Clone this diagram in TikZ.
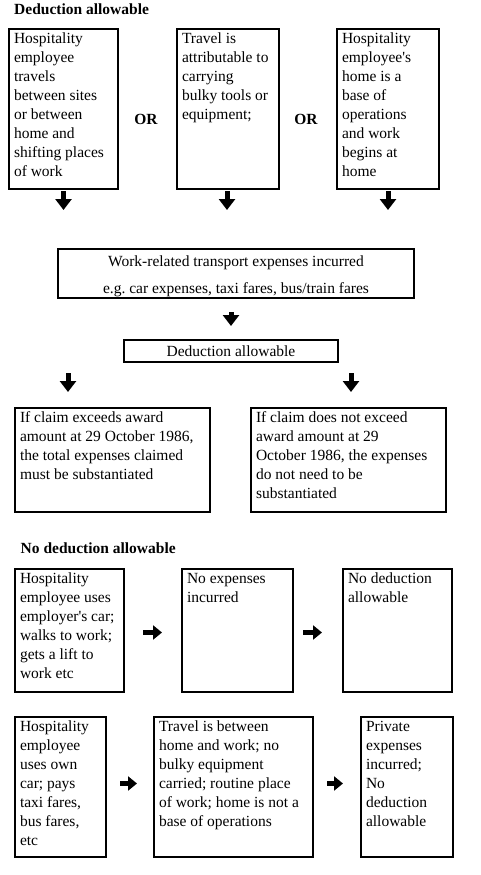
\documentclass[tikz,border=0pt]{standalone}
\usepackage{fontspec}
\setmainfont{Liberation Serif}
\usetikzlibrary{arrows.meta}
\newcommand{\cellfont}{\fontsize{15.5}{19}\selectfont}
\newcommand{\celltext}[3]{\parbox[t][#2][t]{#1}{\raggedright\strut #3}}
\newcommand{\apos}{\textquotesingle}
\tikzset{
  cell/.style={draw, line width=2pt, anchor=north west, inner xsep=5pt, inner ysep=1.5pt, font=\cellfont},
  plain/.style={draw, line width=2pt, inner sep=0pt, font=\cellfont},
  head/.style={font=\cellfont\bfseries, anchor=base west, inner sep=0pt},
  orword/.style={font=\cellfont\bfseries, inner sep=0pt},
  fat/.style={line width=5pt, -{Triangle[width=16pt,length=11pt]}},
  fatright/.style={line width=5pt, -{Triangle[width=14pt,length=9pt]}},
}
\begin{document}
\begin{tikzpicture}[x=1pt,y=-1pt]
  \useasboundingbox (0,0) rectangle (480,875);

  % deduction allowable
  \node[head] (hdyes) at (14,14.5) {Deduction allowable};
  \node[cell] (b1) at (8,28) {\celltext{99pt}{157pt}{Hospitality\\employee\\travels\\between sites\\or between\\home and\\shifting places\\of work}};
  \node[cell] (b2) at (176,28) {\celltext{92pt}{157pt}{Travel is\\attributable to\\carrying\\bulky tools or\\equipment;}};
  \node[cell] (b3) at (336,28) {\celltext{92pt}{157pt}{Hospitality\\employee\apos s\\home is a\\base of\\operations\\and work\\begins at\\home}};
  \node[orword] (or1) at (146,119) {OR};
  \node[orword] (or2) at (306,119) {OR};

  \node[plain, minimum width=356pt, minimum height=49pt, align=center] (work) at (236,273.5)
    {\rule{0pt}{16.6pt}Work-related transport expenses incurred\\[8pt]e.g.\ car expenses, taxi fares, bus/train fares};
  \node[plain, minimum width=214pt, minimum height=22pt] (ded) at (231,351) {Deduction allowable};

  \node[cell] (claimA) at (14,407) {\celltext{185pt}{101pt}{If claim exceeds award\\amount at 29 October 1986,\\the total expenses claimed\\must be substantiated}};
  \node[cell] (claimB) at (250,407) {\celltext{185pt}{101pt}{If claim does not exceed\\award amount at 29\\October 1986, the expenses\\do not need to be\\substantiated}};

  \draw[fat] ([yshift=-1pt]b1.south) -- ++(0,19);
  \draw[fat] ([xshift=-1pt,yshift=-1pt]b2.south) -- ++(0,19);
  \draw[fat] ([yshift=-1pt]b3.south) -- ++(0,19);
  \draw[fat] ([yshift=-13pt]ded.north |- work.south) -- ([yshift=13pt]ded.north);
  \draw[fat] ([xshift=-44.5pt,yshift=34pt]claimA.north) -- ([xshift=-44.5pt,yshift=15pt]claimA.north);
  \draw[fat] ([xshift=2.5pt,yshift=34pt]claimB.north) -- ([xshift=2.5pt,yshift=15pt]claimB.north);

  % no deduction allowable
  \node[head] (hdno) at (20.5,553.5) {No deduction allowable};
  \node[cell] (nA) at (14,568) {\celltext{99pt}{120pt}{Hospitality\\employee uses\\employer\apos s car;\\walks to work;\\gets a lift to\\work etc}};
  \node[cell] (nB) at (181,568) {\celltext{101pt}{120pt}{No expenses\\incurred}};
  \node[cell] (nC) at (342,568) {\celltext{99pt}{120pt}{No deduction\\allowable}};

  \node[cell] (pD) at (14,716) {\celltext{81pt}{137pt}{Hospitality\\employee\\uses own\\car; pays\\taxi fares,\\bus fares,\\etc}};
  \node[cell] (pE) at (153,716) {\celltext{149pt}{137pt}{Travel is between\\home and work; no\\bulky equipment\\carried; routine place\\of work; home is not a\\base of operations}};
  \node[cell] (pF) at (360,716) {\celltext{82pt}{137pt}{Private\\expenses\\incurred;\\No\\deduction\\allowable}};

  \draw[fatright] ([xshift=18pt,yshift=-2pt]nA.east) -- ([xshift=-19pt,yshift=-2pt]nB.west);
  \draw[fatright] ([xshift=9pt,yshift=-2pt]nB.east) -- ([xshift=-20pt,yshift=-2pt]nC.west);
  \draw[fatright] ([xshift=13pt,yshift=3.5pt]pD.east) -- ([xshift=-16pt,yshift=3.5pt]pE.west);
  \draw[fatright] ([xshift=13pt,yshift=3.5pt]pE.east) -- ([xshift=-17pt,yshift=3.5pt]pF.west);
\end{tikzpicture}
\end{document}
